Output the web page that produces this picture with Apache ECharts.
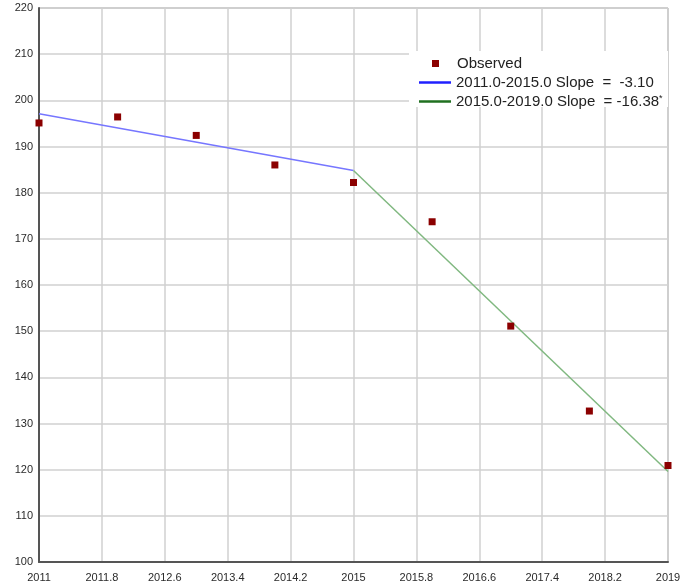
<!DOCTYPE html>
<html><head><meta charset="utf-8">
<script src="https://cdn.jsdelivr.net/npm/echarts@6/dist/echarts.min.js"></script>
<style>html,body{margin:0;padding:0;background:#fff}#c{width:694px;height:586px}</style>
</head><body><div id="c"></div>
<script>
const years = [2011, 2012, 2013, 2014, 2015, 2016, 2017, 2018, 2019];
const observed = [195.1, 196.4, 192.4, 186.0, 182.2, 173.7, 151.1, 132.7, 120.9];
const seg1 = [[2011, 197.1], [2015, 184.8]];
const seg2 = [[2015, 184.8], [2019, 119.6]];
const names = ['Observed', '2011.0-2015.0 Slope  =  -3.10', '2015.0-2019.0 Slope  = -16.38'];

const chart = echarts.init(document.getElementById('c'));
const lbl = {color: '#2a2a2a', fontSize: 11, fontFamily: 'Liberation Sans, Arial'};
const ltxt = {fontSize: 15, color: '#222', fontFamily: 'Liberation Sans, Arial'};
chart.setOption({
  animation: false,
  grid: {left: 39, right: 26, top: 8, bottom: 24, show: true, borderColor: '#999', borderWidth: 1},
  xAxis: {type: 'value', min: 2011, max: 2019, interval: 0.8,
    axisLine: {show: true, lineStyle: {color: '#555', width: 2}}, axisTick: {show: false},
    splitLine: {lineStyle: {color: '#d0d0d0', width: 1.5}},
    axisLabel: Object.assign({margin: 10, formatter: v => String(Math.round(v * 10) / 10)}, lbl)},
  yAxis: {type: 'value', min: 100, max: 220, interval: 10,
    axisLine: {show: true, lineStyle: {color: '#555', width: 2}}, axisTick: {show: false},
    splitLine: {lineStyle: {color: '#d0d0d0', width: 1.5}},
    axisLabel: Object.assign({margin: 6}, lbl)},
  graphic: [{type: 'rect', z: 3, shape: {x: 409, y: 51, width: 259, height: 56}, style: {fill: '#fff'}}],
  legend: [
    {data: [names[0]], left: 432, top: 56, itemWidth: 7, itemHeight: 7, padding: 0, z: 5,
     textStyle: Object.assign({padding: [0, 0, 0, 13]}, ltxt)},
    {data: names.slice(1).map(n => ({name: n, icon: 'rect'})), orient: 'vertical', left: 419, top: 75,
     itemWidth: 32, itemHeight: 2.5, itemGap: 4, padding: 0, z: 5,
     formatter: n => n === names[2] ? n + '{s|*}' : n,
     textStyle: Object.assign({rich: {s: {fontSize: 9, verticalAlign: 'top', padding: [0, 0, 6, 0], color: '#222'}}}, ltxt)}
  ],
  series: [
    {name: names[1], type: 'line', data: seg1, symbol: 'none', z: 2,
     lineStyle: {color: '#7676ff', width: 1.5}, itemStyle: {color: '#2020ff'}},
    {name: names[2], type: 'line', data: seg2, symbol: 'none', z: 2,
     lineStyle: {color: '#80b880', width: 1.5}, itemStyle: {color: '#207020'}},
    {name: names[0], type: 'scatter', data: years.map((y, i) => [y, observed[i]]), symbol: 'rect', symbolSize: 7, z: 3,
     itemStyle: {color: '#8b0000', opacity: 1}}
  ]
});
</script></body></html>
